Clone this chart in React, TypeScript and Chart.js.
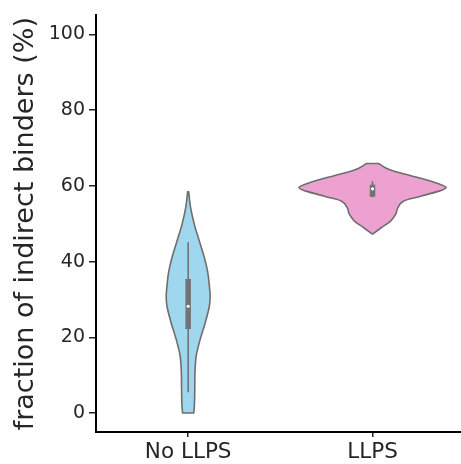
import { useEffect, useRef } from 'react';
import { Chart, registerables } from 'chart.js';

Chart.register(...registerables);

const categories = ['No LLPS', 'LLPS'];
const yTicks = [0, 20, 40, 60, 80, 100];

// Density outlines: value level (%) and half-width (category units)
const noLlpsLevels = [0, 2.3, 6.6, 10.9, 15.2, 19.6, 23.9, 28.2, 30.9, 32.5, 36.9, 41.2, 45.5, 49.9, 54.3, 58.4];
const noLlpsWidths = [0.03, 0.034, 0.036, 0.037, 0.044, 0.066, 0.093, 0.115, 0.119, 0.117, 0.107, 0.087, 0.06, 0.033, 0.013, 0.003];
const llpsLevels = [47.3, 49.0, 50.7, 52.5, 54.2, 56.0, 57.2, 58.6, 59.6, 60.7, 62.0, 63.3, 64.6, 65.9];
const llpsWidths = [0.003, 0.049, 0.098, 0.126, 0.137, 0.169, 0.257, 0.361, 0.399, 0.35, 0.262, 0.158, 0.077, 0.033];

// Inner box statistics per category: [low whisker, q1, median, q3, high whisker]
const noLlpsBox = [5.5, 22.2, 28.2, 35.4, 45.1];
const llpsBox = [57.0, 57.1, 59.2, 60.3, 61.2];

const fills = ['#9fd7ee', '#eda1d1'];

const violins = [
  { pos: 0, levels: noLlpsLevels, widths: noLlpsWidths, box: noLlpsBox, fill: fills[0] },
  { pos: 1, levels: llpsLevels, widths: llpsWidths, box: llpsBox, fill: fills[1] },
];

type P = { x: number; y: number };

function smoothPath(ctx: CanvasRenderingContext2D, pts: P[], moveFirst: boolean) {
  if (moveFirst) ctx.moveTo(pts[0].x, pts[0].y);
  else ctx.lineTo(pts[0].x, pts[0].y);
  for (let i = 0; i < pts.length - 1; i++) {
    const p0 = pts[Math.max(0, i - 1)];
    const p1 = pts[i];
    const p2 = pts[i + 1];
    const p3 = pts[Math.min(pts.length - 1, i + 2)];
    ctx.bezierCurveTo(
      p1.x + (p2.x - p0.x) / 6, p1.y + (p2.y - p0.y) / 6,
      p2.x - (p3.x - p1.x) / 6, p2.y - (p3.y - p1.y) / 6,
      p2.x, p2.y
    );
  }
}

const violinPlugin = {
  id: 'violins',
  afterDatasetsDraw(chart: any) {
    const { ctx } = chart;
    const xs = chart.scales.x;
    const ys = chart.scales.y;
    ctx.save();
    violins.forEach((v) => {
      const right: P[] = v.levels.map((lv, i) => ({
        x: xs.getPixelForValue(v.pos + v.widths[i]),
        y: ys.getPixelForValue(lv),
      }));
      const left: P[] = v.levels
        .map((lv, i) => ({ x: xs.getPixelForValue(v.pos - v.widths[i]), y: ys.getPixelForValue(lv) }))
        .reverse();
      ctx.beginPath();
      smoothPath(ctx, right, true);
      smoothPath(ctx, left, false);
      ctx.closePath();
      ctx.fillStyle = v.fill;
      ctx.fill();
      ctx.lineWidth = 1.6;
      ctx.strokeStyle = '#6e6e6e';
      ctx.lineJoin = 'round';
      ctx.stroke();

      const cx = xs.getPixelForValue(v.pos);
      const [lo, q1, med, q3, hi] = v.box.map((b) => ys.getPixelForValue(b));
      ctx.strokeStyle = '#727272';
      ctx.lineCap = 'butt';
      ctx.lineWidth = 1.6;
      ctx.beginPath();
      ctx.moveTo(cx, lo);
      ctx.lineTo(cx, hi);
      ctx.stroke();
      ctx.lineWidth = 5.5;
      ctx.beginPath();
      ctx.moveTo(cx, q1);
      ctx.lineTo(cx, q3);
      ctx.stroke();
      ctx.fillStyle = '#ffffff';
      ctx.beginPath();
      ctx.arc(cx, med, 1.6, 0, Math.PI * 2);
      ctx.fill();
    });
    ctx.restore();
  },
};

export default function App() {
  const ref = useRef<HTMLCanvasElement | null>(null);

  useEffect(() => {
    if (!ref.current) return;
    const textColor = '#262626';
    const chart = new Chart(ref.current, {
      type: 'scatter',
      data: { datasets: [] },
      options: {
        animation: false,
        responsive: false,
        maintainAspectRatio: false,
        layout: { padding: { top: 7, right: 0, bottom: 0, left: 0 } },
        plugins: { legend: { display: false }, tooltip: { enabled: false } },
        scales: {
          x: {
            type: 'linear',
            min: -0.5,
            max: 1.48,
            afterBuildTicks: (s: any) => {
              s.ticks = categories.map((_, i) => ({ value: i }));
            },
            afterFit: (s: any) => {
              s.height = 32;
            },
            ticks: {
              autoSkip: false,
              maxRotation: 0,
              padding: 3,
              color: textColor,
              font: { family: 'DejaVu Sans', size: 21.5 },
              callback: (v: any) => categories[v as number] ?? '',
            },
            grid: { display: true, drawOnChartArea: false, drawTicks: true, tickLength: 5, color: '#222', lineWidth: 1.5 },
            border: { display: true, color: '#000', width: 2 },
          },
          y: {
            type: 'linear',
            min: -5,
            max: 105,
            afterBuildTicks: (s: any) => {
              s.ticks = yTicks.map((t) => ({ value: t }));
            },
            afterFit: (s: any) => {
              s.width = 96;
            },
            ticks: {
              padding: 4,
              color: textColor,
              font: { family: 'DejaVu Sans', size: 19 },
            },
            grid: { display: true, drawOnChartArea: false, drawTicks: true, tickLength: 7, color: '#222', lineWidth: 1.5 },
            border: { display: true, color: '#000', width: 2 },
            title: {
              display: true,
              text: 'fraction of indirect binders (%)',
              color: textColor,
              font: { family: 'DejaVu Sans', size: 27 },
              padding: { top: 10, bottom: 0 },
            },
          },
        },
      },
      plugins: [violinPlugin],
    });
    return () => chart.destroy();
  }, []);

  return (
    <div style={{ position: 'fixed', left: 0, top: 0, width: 461, height: 464, background: '#fff' }}>
      <canvas ref={ref} width={461} height={464} style={{ display: 'block' }} />
    </div>
  );
}
